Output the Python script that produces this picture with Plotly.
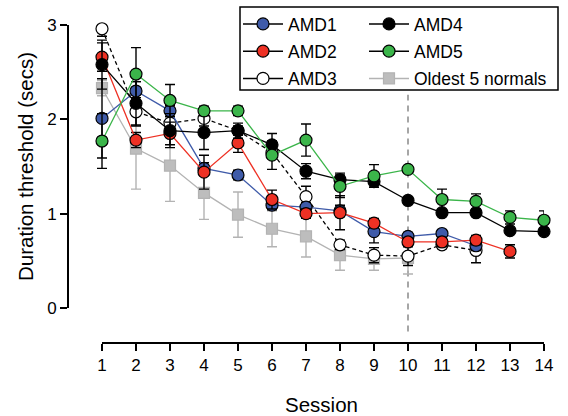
import plotly.graph_objects as go

# ---------------- data ----------------
sessions = list(range(1, 15))

amd1 = [2.01, 2.30, 2.09, 1.48, 1.41, 1.09, 1.07, 1.03, 0.81, 0.76, 0.79, 0.66]
amd1_err = [0.42, 0.10, 0.06, 0.06, 0.05, 0.05, 0.05, 0.06, 0.12, 0.04, 0.04, 0.05]

amd2 = [2.66, 1.78, 1.85, 1.44, 1.75, 1.15, 1.00, 1.01, 0.90, 0.70, 0.70, 0.72, 0.60]
amd2_err = [0.15, 0.08, 0.12, 0.18, 0.10, 0.10, 0.05, 0.18, 0.05, 0.04, 0.05, 0.05, 0.07]

amd3 = [2.96, 2.08, 1.96, 2.01, 1.88, 1.65, 1.18, 0.67, 0.56, 0.55, 0.67, 0.61]
amd3_err = [0.08, 0.15, 0.15, 0.08, 0.05, 0.05, 0.11, 0.05, 0.08, 0.10, 0.04, 0.13]

amd4 = [2.58, 2.17, 1.88, 1.86, 1.88, 1.73, 1.45, 1.36, 1.34, 1.14, 1.01, 1.01, 0.82, 0.81]
amd4_err = [0.26, 0.23, 0.18, 0.18, 0.08, 0.12, 0.08, 0.07, 0.06, 0.0, 0.02, 0.02, 0.02, 0.0]

amd5 = [1.77, 2.48, 2.20, 2.09, 2.09, 1.62, 1.78, 1.29, 1.40, 1.47, 1.15, 1.13, 0.96, 0.93]
amd5_err = [0.29, 0.28, 0.17, 0.05, 0.05, 0.15, 0.17, 0.12, 0.12, 0.0, 0.11, 0.08, 0.07, 0.10]

normals = [2.33, 1.69, 1.51, 1.22, 0.99, 0.84, 0.76, 0.56, 0.52, 0.53]
normals_err = [0.08, 0.43, 0.38, 0.28, 0.24, 0.19, 0.22, 0.16, 0.12, 0.17]

y_ticks = [0, 1, 2, 3]
marker_session = 10

names = ["AMD1", "AMD2", "AMD3", "AMD4", "AMD5", "Oldest 5 normals"]

# ---------------- styling ----------------
W, H = 568, 416
FONT = "Liberation Sans, Arial, Helvetica, sans-serif"
BLUE = "#3F5BA9"
RED = "#EE3124"
GREEN = "#3BB54A"
GRAY = "#BDBDBD"
GRAY_LINE = "#B3B3B3"


def fx(p):
    return p / W


def fy(p):
    return 1 - p / H


# pixel geometry of the plot frame (spines are offset from the data)
X_LEFT, X_RIGHT = 68, 544      # y spine at session 0, last tick at session 14
Y_BOTTOM, Y_ZERO, Y_TOP = 343, 308, 25
y_per_px = 3 / (Y_ZERO - Y_TOP)
y_min = -(Y_BOTTOM - Y_ZERO) * y_per_px

fig = go.Figure()


def add_series(y, err, name, fill, linecolor, dash="solid", symbol="circle",
               size=12, errcolor="black", mline="black"):
    fig.add_trace(go.Scatter(
        x=sessions[:len(y)], y=y, name=name, showlegend=False,
        mode="lines+markers", cliponaxis=False,
        line=dict(color=linecolor, width=1.3, dash=dash),
        marker=dict(symbol=symbol, size=size, color=fill,
                    line=dict(color=mline, width=1.2)),
        error_y=dict(type="data", array=err, visible=True, color=errcolor,
                     thickness=1.4, width=5),
    ))


# drawing order (bottom -> top)
add_series(normals, normals_err, names[5], GRAY, GRAY_LINE, symbol="square",
           size=11, errcolor=GRAY_LINE, mline=GRAY_LINE)
add_series(amd3, amd3_err, names[2], "white", "black", dash="4px,3px")
add_series(amd1, amd1_err, names[0], BLUE, BLUE)
add_series(amd2, amd2_err, names[1], RED, RED)
add_series(amd4, amd4_err, names[3], "black", "black")
add_series(amd5, amd5_err, names[4], GREEN, GREEN)

# legend-only entries (legend symbols use black lines, as in the reference)
leg_specs = [
    (names[0], BLUE, "circle", "black", "black", "legend"),
    (names[1], RED, "circle", "black", "black", "legend"),
    (names[2], "white", "circle", "black", "black", "legend"),
    (names[3], "black", "circle", "black", "black", "legend2"),
    (names[4], GREEN, "circle", "black", "black", "legend2"),
    (names[5], GRAY, "square", GRAY_LINE, GRAY_LINE, "legend2"),
]
for i, (nm, fill, sym, lcol, mcol, lg) in enumerate(leg_specs):
    fig.add_trace(go.Scatter(
        x=[None], y=[None], name=nm, mode="lines+markers", legend=lg,
        legendgroup=nm, legendrank=i + 1,
        line=dict(color=lcol, width=1.5),
        marker=dict(symbol=sym, size=11 if sym == "square" else 12, color=fill,
                    line=dict(color=mcol, width=1.2)),
    ))

# vertical dashed marker at session 10
fig.add_shape(type="line", xref="x", yref="y", x0=marker_session, x1=marker_session,
              y0=-0.25, y1=2.26, line=dict(color="#A6A6A6", width=2, dash="6px,5px"),
              layer="below")

# offset spines: x spine spans first..last session, y spine spans 0..3
fig.add_shape(type="line", xref="x", yref="paper", x0=sessions[0], x1=sessions[-1],
              y0=fy(Y_BOTTOM), y1=fy(Y_BOTTOM), line=dict(color="black", width=2))
fig.add_shape(type="line", xref="paper", yref="y", x0=fx(X_LEFT), x1=fx(X_LEFT),
              y0=y_ticks[0], y1=y_ticks[-1], line=dict(color="black", width=2))

# legend box
fig.add_shape(type="rect", xref="paper", yref="paper",
              x0=fx(240), x1=fx(558), y0=fy(90), y1=fy(7),
              line=dict(color="black", width=1.5), fillcolor="rgba(0,0,0,0)")

leg_common = dict(xanchor="left", yanchor="top", bgcolor="rgba(0,0,0,0)",
                  borderwidth=0, font=dict(family=FONT, size=17.5, color="black"),
                  tracegroupgap=1.5, itemwidth=40)

axis_common = dict(showline=False, ticks="outside", ticklen=7, tickwidth=2,
                   tickcolor="black", tickfont=dict(size=17), showgrid=False,
                   zeroline=False, automargin=False)

fig.update_layout(
    width=W, height=H,
    margin=dict(l=0, r=0, t=0, b=0),
    paper_bgcolor="white", plot_bgcolor="rgba(0,0,0,0)",
    font=dict(family=FONT, color="black"),
    showlegend=True,
    legend=dict(x=fx(238), y=fy(6), **leg_common),
    legend2=dict(x=fx(364), y=fy(6), **leg_common),
    xaxis=dict(domain=[fx(X_LEFT), fx(X_RIGHT)], range=[0, sessions[-1]],
               tickvals=sessions, **axis_common),
    yaxis=dict(domain=[fy(Y_BOTTOM), fy(Y_TOP)], range=[y_min, y_ticks[-1]],
               tickvals=y_ticks, **axis_common),
    annotations=[
        dict(text="Session", xref="paper", yref="paper", x=fx(321), y=fy(404),
             showarrow=False, font=dict(size=20.5), xanchor="center", yanchor="middle"),
        dict(text="Duration threshold (secs)", xref="paper", yref="paper",
             x=fx(25), y=fy(167), textangle=-90, showarrow=False,
             font=dict(size=20.5), xanchor="center", yanchor="middle"),
    ],
)

fig.write_html("out.html")
